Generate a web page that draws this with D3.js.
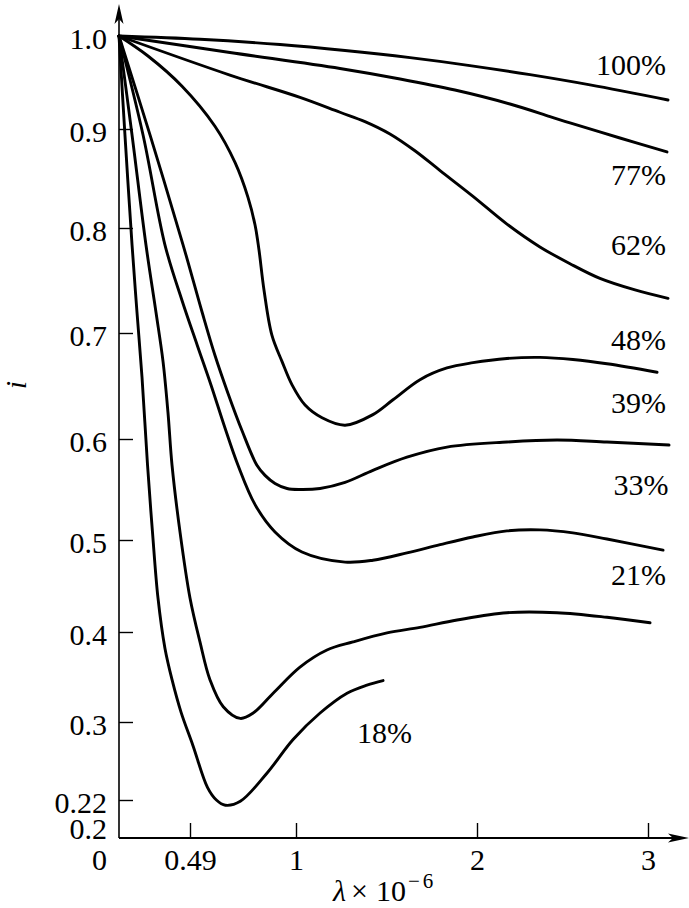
<!DOCTYPE html>
<html>
<head>
<meta charset="utf-8">
<script src="https://cdn.jsdelivr.net/npm/d3@7"></script>
<style>
  html, body { margin: 0; padding: 0; background: #fff; }
  svg { display: block; }
  svg text { font-family: 'Liberation Serif', 'Times New Roman', Times, 'DejaVu Serif', serif !important; }
</style>
</head>
<body>
<svg id="chart" width="689" height="908"></svg>
<script>
// ---------------- DATA (λ×10^-6, i) ----------------
const seriesLabels = ["100%", "77%", "62%", "48%", "39%", "33%", "21%", "18%"];

const s100 = [[0,1.0],[0.538,0.9965],[0.923,0.9908],[1.271,0.9844],[1.630,0.9767],[1.961,0.9682],
              [2.310,0.9584],[2.661,0.9474],[3.117,0.9312]];
const s77  = [[0,1.0],[0.682,0.9823],[1.243,0.9651],[1.575,0.9538],[1.878,0.9419],[2.193,0.9269],
              [2.427,0.9134],[2.544,0.9065],[2.836,0.8909],[3.111,0.8768]];
const s62  = [[0,1.0],[0.682,0.958],[1.022,0.934],[1.243,0.918],[1.381,0.908],[1.519,0.895],[1.657,0.878],
              [1.796,0.858],[1.978,0.832],[2.175,0.804],[2.368,0.782],[2.544,0.766],[2.719,0.752],
              [2.924,0.741],[3.117,0.733]];
const s48  = [[0,1.0],[0.200,0.9785],[0.435,0.946],[0.610,0.903],[0.707,0.866],[0.769,0.831],[0.803,0.803],
              [0.822,0.779],[0.846,0.741],[0.884,0.698],[0.933,0.673],[0.981,0.651],[1.050,0.632],[1.144,0.620],
              [1.271,0.613],[1.425,0.623],[1.536,0.637],[1.685,0.656],[1.834,0.667],[1.978,0.672],[2.175,0.676],
              [2.368,0.677],[2.561,0.675],[2.760,0.671],[3.053,0.663]];
const s39  = [[0,1.0],[0.214,0.894],[0.442,0.784],[0.548,0.720],[0.610,0.679],[0.673,0.643],[0.740,0.608],
              [0.812,0.574],[0.851,0.564],[0.899,0.556],[0.957,0.551],[1.022,0.550],[1.133,0.551],[1.271,0.557],
              [1.425,0.569],[1.613,0.582],[1.834,0.592],[2.175,0.597],[2.468,0.599],[2.760,0.597],[3.123,0.594]];
const s33  = [[0,1.0],[0.166,0.894],[0.317,0.784],[0.435,0.731],[0.524,0.689],[0.591,0.651],[0.654,0.613],
              [0.721,0.574],[0.803,0.535],[0.899,0.508],[1.033,0.487],[1.271,0.476],[1.425,0.478],[1.613,0.486],
              [1.796,0.495],[1.977,0.503],[2.175,0.509],[2.368,0.510],[2.561,0.507],[2.760,0.501],[3.088,0.489]];
const s21  = [[0,1.0],[0.090,0.894],[0.186,0.784],[0.255,0.720],[0.304,0.673],[0.338,0.625],[0.366,0.574],
              [0.421,0.508],[0.490,0.437],[0.538,0.389],[0.586,0.347],[0.650,0.317],[0.732,0.304],[0.794,0.310],
              [0.890,0.332],[1.022,0.361],[1.171,0.380],[1.315,0.389],[1.503,0.399],[1.685,0.405],[1.890,0.413],
              [2.175,0.421],[2.468,0.421],[2.760,0.416],[3.012,0.410]];
const s18  = [[0,1.0],[0.041,0.894],[0.090,0.784],[0.124,0.720],[0.159,0.658],[0.197,0.574],[0.231,0.508],
              [0.269,0.437],[0.317,0.382],[0.366,0.347],[0.428,0.311],[0.504,0.276],[0.574,0.233],[0.617,0.220],
              [0.660,0.216],[0.732,0.219],[0.862,0.248],[0.986,0.282],[1.133,0.310],[1.282,0.332],[1.392,0.341],
              [1.481,0.346]];

const xTicks = [0.49, 1, 2, 3];
const xTickLabels = ["0.49", "1", "2", "3"];
const yTicks = [0.2, 0.22, 0.3, 0.4, 0.5, 0.6, 0.7, 0.8, 0.9, 1.0];
const yTickLabels = ["0.2", "0.22", "0.3", "0.4", "0.5", "0.6", "0.7", "0.8", "0.9", "1.0"];

// ---------------- LAYOUT ----------------
const series = [s100, s77, s62, s48, s39, s33, s21, s18];
// label anchors in data units (x, i) and text-anchor
const labelAnchors = [
  [3.105, 0.969, "end"], [3.105, 0.854, "end"], [3.105, 0.784, "end"], [3.105, 0.694, "end"],
  [3.105, 0.634, "end"], [3.12, 0.555, "end"], [3.105, 0.462, "end"], [1.337, 0.289, "start"]
];

const svg = d3.select("#chart");
const FONT = "'Liberation Serif', 'Times New Roman', Times, 'DejaVu Serif', serif";
const FS = 30;

// the original figure's axes are not uniformly spaced: piecewise linear scales
const x = d3.scaleLinear().domain([0, 0.49, 1, 2, 3]).range([119, 190, 296, 477, 648]);
const y = d3.scaleLinear().domain([0.2, 0.22, 0.3, 0.4, 0.5, 0.6, 0.7, 0.8, 0.9, 1.0])
                          .range([826, 800, 722, 632, 540, 439, 333, 228, 129, 36]);
const x0 = 119, yAxisPx = 838;

// curves
const line = d3.line().x(d => x(d[0])).y(d => y(d[1])).curve(d3.curveCatmullRom.alpha(0.5));
svg.append("g").selectAll("path").data(series).join("path")
  .attr("d", line)
  .attr("fill", "none").attr("stroke", "#000")
  .attr("stroke-width", 2.9).attr("stroke-linecap", "round").attr("stroke-linejoin", "round");

// y axis
const yAxis = d3.axisLeft(y).tickValues(yTicks)
  .tickFormat((d, i) => yTickLabels[i]).tickSize(-14).tickPadding(12);
const gy = svg.append("g").attr("transform", `translate(${x0},0)`).call(yAxis);
gy.attr("font-family", null);
gy.select(".domain").remove();
gy.selectAll(".tick line").attr("stroke", "#000").attr("stroke-width", 1.4)
  .attr("display", d => (d === 0.2 || d === 1.0) ? "none" : null);
gy.selectAll(".tick text").attr("font-size", FS).attr("fill", "#000").attr("dy", "0.4em")
  .style("font-family", FONT);

// x axis
const xAxis = d3.axisBottom(x).tickValues(xTicks)
  .tickFormat((d, i) => xTickLabels[i]).tickSize(-15).tickPadding(11);
const gx = svg.append("g").attr("transform", `translate(0,${yAxisPx})`).call(xAxis);
gx.attr("font-family", null);
gx.select(".domain").remove();
gx.selectAll(".tick line").attr("stroke", "#000").attr("stroke-width", 1.4);
gx.selectAll(".tick text").attr("font-size", FS).attr("fill", "#000").style("font-family", FONT);

// axis lines with arrows
svg.append("line").attr("x1", x0).attr("x2", x0).attr("y1", yAxisPx).attr("y2", 12)
  .attr("stroke", "#000").attr("stroke-width", 1.6);
svg.append("line").attr("x1", x0).attr("x2", 680).attr("y1", yAxisPx).attr("y2", yAxisPx)
  .attr("stroke", "#000").attr("stroke-width", 2);
svg.append("path").attr("d", `M${x0},4 L${x0 - 4.5},24 L${x0},19 L${x0 + 4.5},24 Z`).attr("fill", "#000");
svg.append("path").attr("d", `M689,${yAxisPx} L668,${yAxisPx - 4.5} L673,${yAxisPx} L668,${yAxisPx + 4.5} Z`).attr("fill", "#000");

// origin label
svg.append("text").attr("x", 107).attr("y", yAxisPx + 32).attr("text-anchor", "end")
  .style("font-family", FONT).attr("font-size", FS).text("0");

// axis titles
svg.append("text").attr("transform", "translate(26,385) rotate(-90)")
  .attr("text-anchor", "middle").style("font-family", FONT).attr("font-style", "italic")
  .attr("font-size", FS).text("i");
const xt = svg.append("text").attr("y", 901).style("font-family", FONT).attr("font-size", FS);
xt.append("tspan").attr("x", 333).attr("font-style", "italic").text("λ");
xt.append("tspan").attr("x", 351).text("×");
xt.append("tspan").attr("x", 376).text("10");
xt.append("tspan").attr("x", 408).attr("font-size", 21).attr("dy", -13)
  .attr("letter-spacing", 3).text("−6");

// curve labels
svg.append("g").selectAll("text").data(seriesLabels).join("text")
  .attr("x", (d, i) => x(labelAnchors[i][0]))
  .attr("y", (d, i) => y(labelAnchors[i][1]))
  .attr("dy", "0.35em")
  .attr("text-anchor", (d, i) => labelAnchors[i][2])
  .style("font-family", FONT).attr("font-size", FS).text(d => d);
</script>
</body>
</html>
